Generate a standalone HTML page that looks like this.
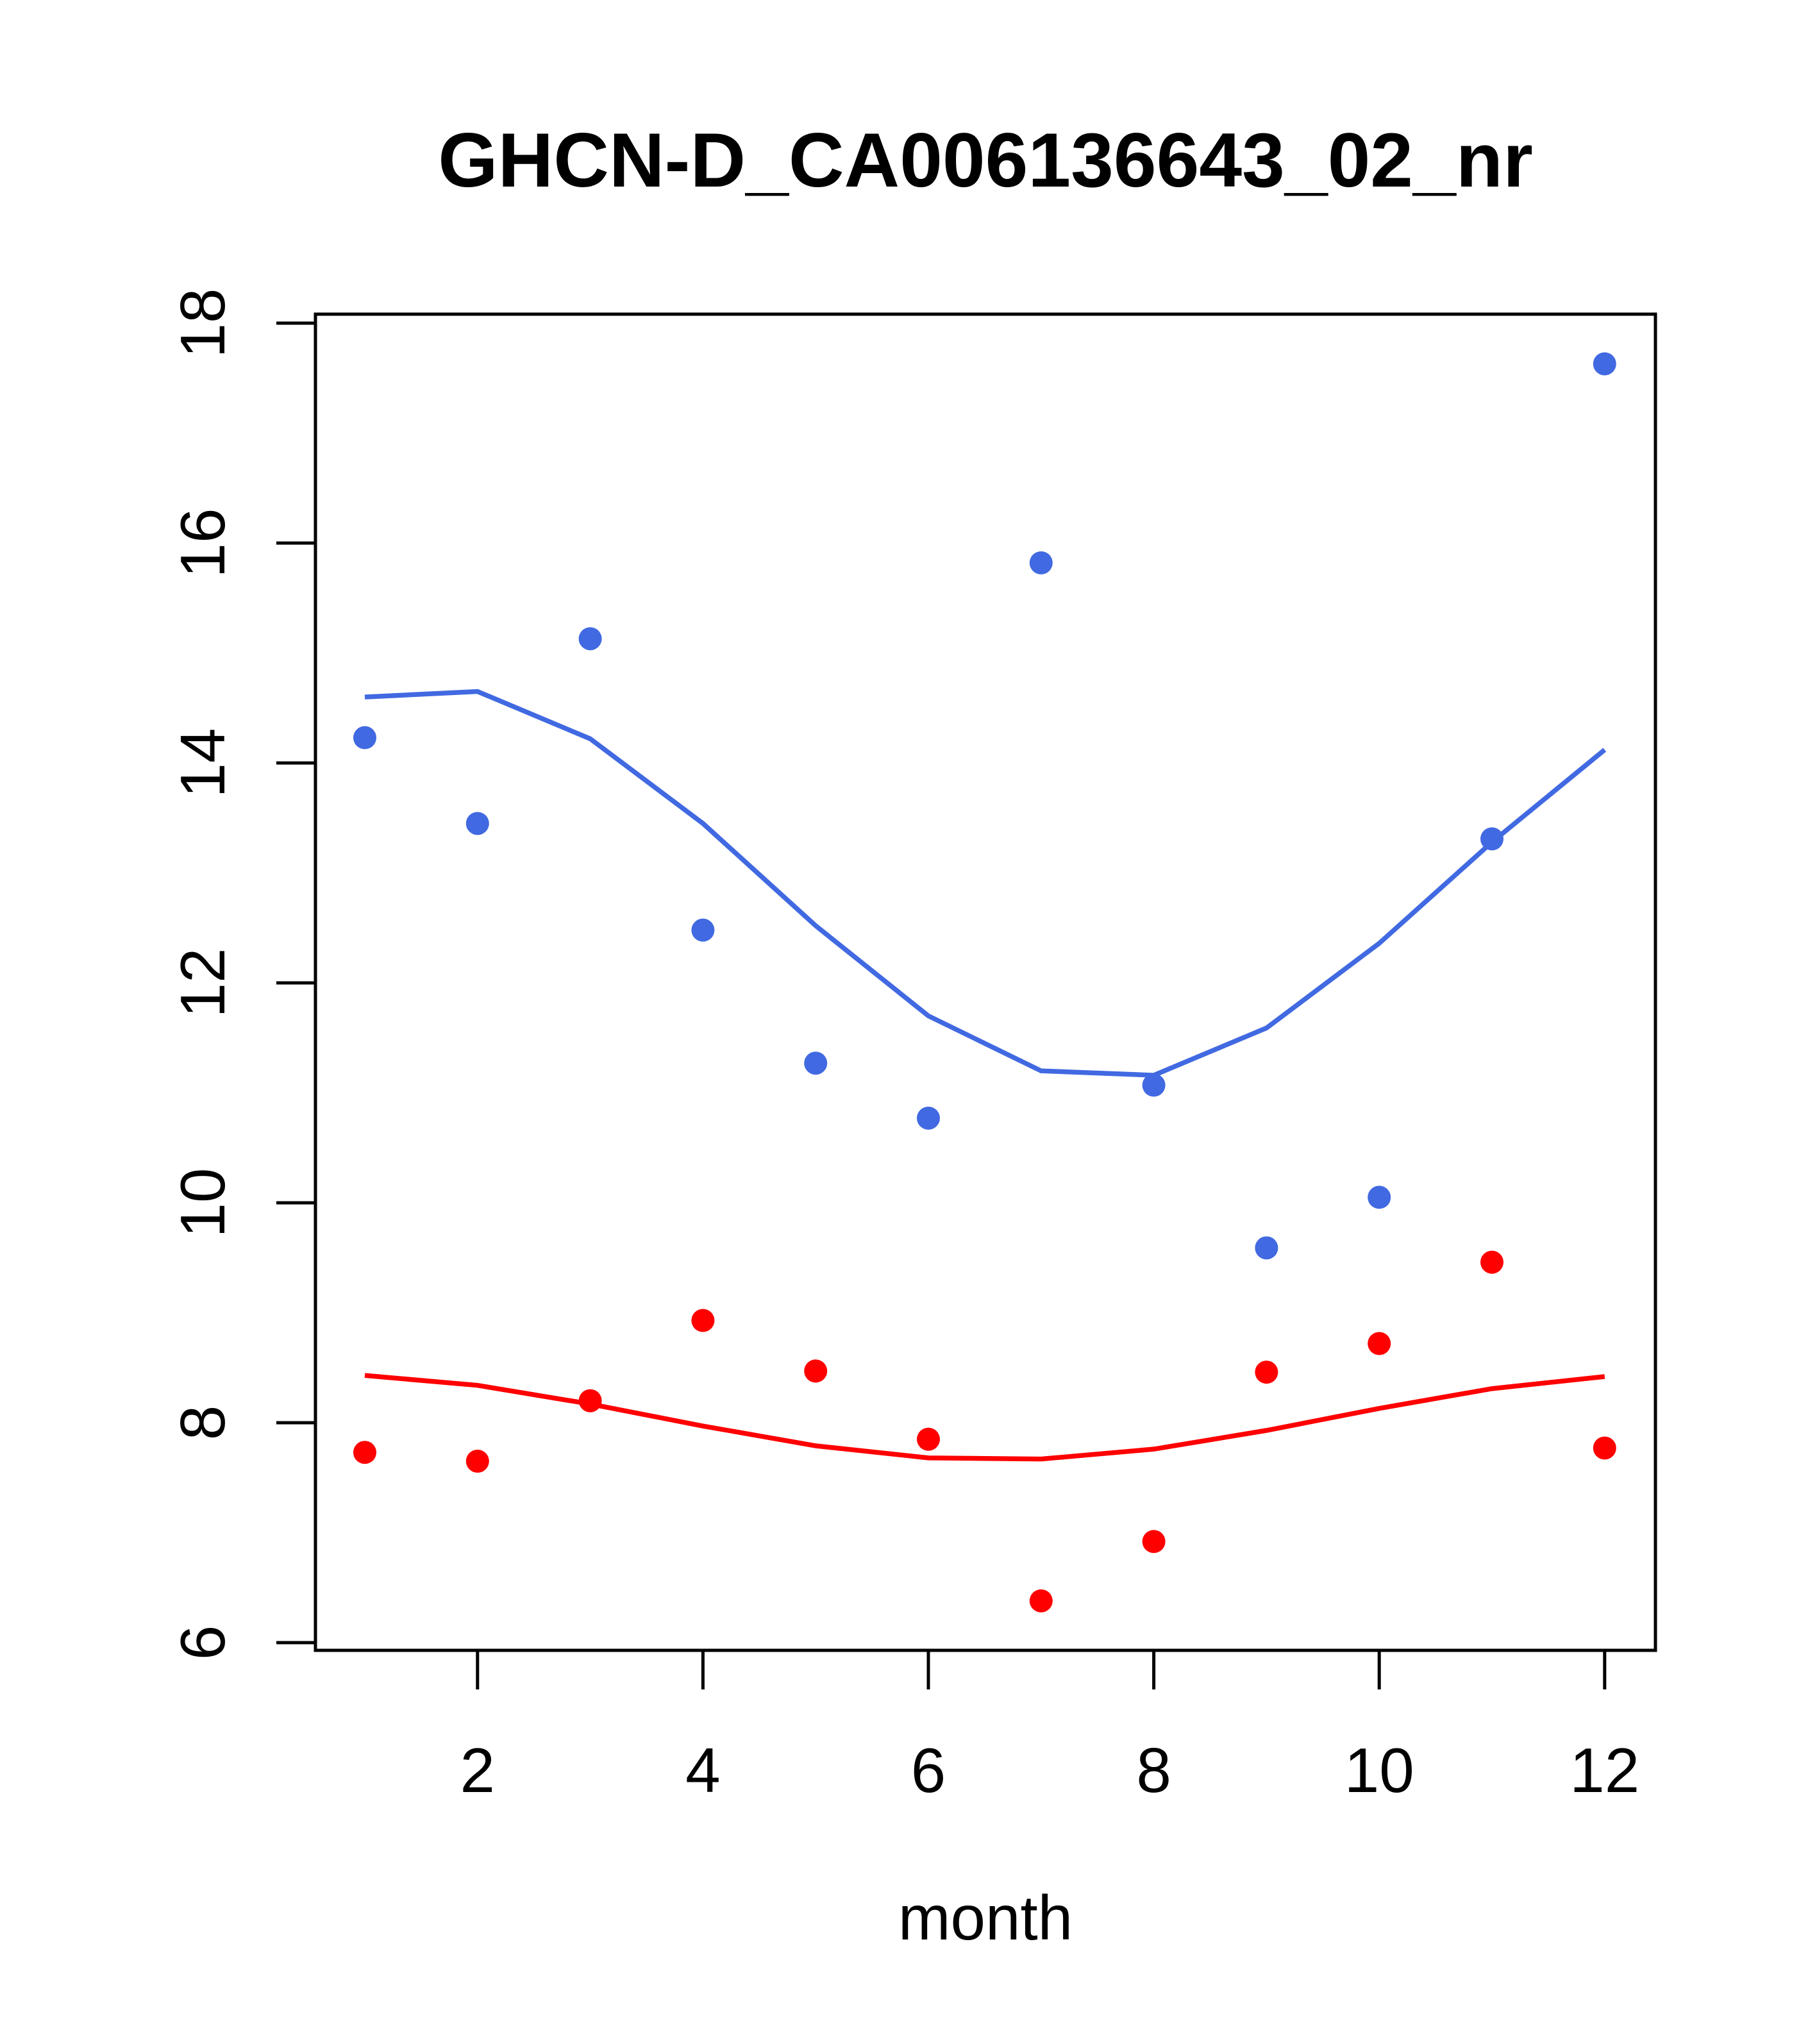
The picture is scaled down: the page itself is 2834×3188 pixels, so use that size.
<!DOCTYPE html>
<html><head><meta charset="utf-8">
<style>
html,body{margin:0;padding:0;background:#fff;}
svg{display:block;font-family:"Liberation Sans",sans-serif;}
</style></head>
<body>
<svg id="chart" width="2834" height="3188" viewBox="0 0 2834 3188" xmlns="http://www.w3.org/2000/svg">
<rect width="2834" height="3188" fill="#fff"/>
<text x="1537" y="291" text-anchor="middle" font-size="120" font-weight="bold">GHCN-D_CA006136643_02_nr</text>
<text x="1537" y="3025" text-anchor="middle" font-size="98">month</text>
<rect x="492" y="490" width="2090" height="2084" fill="none" stroke="#000" stroke-width="5"/>
<g id="axes"></g>
<g id="series"></g>
</svg>
<script>
const months = [1,2,3,4,5,6,7,8,9,10,11,12];
const bluePoints = [14.23,13.45,15.13,12.48,11.27,10.77,15.82,11.07,9.59,10.05,13.31,17.63];
const blueLine = [14.60,14.65,14.22,13.45,12.52,11.70,11.20,11.16,11.59,12.36,13.28,14.12];
const redPoints = [7.73,7.65,8.20,8.93,8.47,7.85,6.38,6.92,8.46,8.72,9.46,7.77];
const redLine = [8.43,8.34,8.17,7.97,7.79,7.68,7.67,7.76,7.93,8.13,8.31,8.42];
const xTicks = [2,4,6,8,10,12];
const yTicks = [6,8,10,12,14,16,18];

const NS = "http://www.w3.org/2000/svg";
function xs(m){ return 569 + (m-1)*175.8; }
function ys(v){ return 2562 - (v-6)*171.5; }
function mk(tag, attrs, parent){
  const e = document.createElementNS(NS, tag);
  for (const k in attrs) e.setAttribute(k, attrs[k]);
  parent.appendChild(e);
  return e;
}
const axes = document.getElementById('axes');
const series = document.getElementById('series');

xTicks.forEach(t => {
  const l = mk('line', {x1:xs(t), x2:xs(t), y1:2574, y2:2635, stroke:'#000', 'stroke-width':5}, axes);
  
  
  const tx = mk('text', {x:xs(t), y:2795, 'text-anchor':'middle', 'font-size':98}, axes);
  tx.textContent = t;
  
  
});
yTicks.forEach(t => {
  const l = mk('line', {x1:431, x2:492, y1:ys(t), y2:ys(t), stroke:'#000', 'stroke-width':5}, axes);
  
  
  const tx = mk('text', {x:0, y:0, 'text-anchor':'middle', 'font-size':98, transform:`translate(350,${ys(t)}) rotate(-90)`}, axes);
  tx.textContent = t;
  
  
});

function drawLine(vals, color, name){
  const p = mk('polyline', {points: vals.map((v,i)=>xs(months[i])+','+ys(v)).join(' '), fill:'none', stroke:color, 'stroke-width':7.5}, series);
  
  
}
function drawPts(vals, color, name){
  vals.forEach((v,i)=>{
    const c = mk('circle', {cx:xs(months[i]), cy:ys(v), r:18, fill:color}, series);
    
    
  });
}
drawLine(blueLine, '#4169E1', 'blue-trend-line');
drawLine(redLine, '#FF0000', 'red-trend-line');
drawPts(bluePoints, '#4169E1', 'blue-point');
drawPts(redPoints, '#FF0000', 'red-point');
</script>
</body></html>
